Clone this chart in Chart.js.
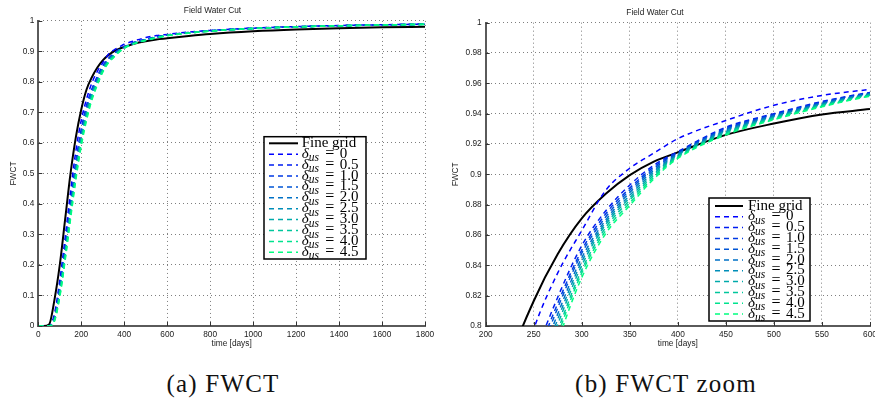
<!DOCTYPE html>
<html>
<head>
<meta charset="utf-8">
<script src="https://cdn.jsdelivr.net/npm/chart.js@4.4.0/dist/chart.umd.min.js"></script>
<style>
  html, body { margin: 0; padding: 0; background: #fff; width: 875px; height: 405px; overflow: hidden; }
  canvas { position: absolute; top: 0; }
  #fwct { left: 0; }
  #fwctZoom { left: 440px; }
  .caption {
    position: absolute; top: 369px; height: 30px; line-height: 30px;
    font-family: "Liberation Serif", "Times New Roman", serif; font-size: 25px;
    letter-spacing: 1.2px; color: #111; white-space: nowrap; transform: translateX(-50%);
  }
</style>
</head>
<body>
<canvas id="fwct" width="440" height="349"></canvas>
<canvas id="fwctZoom" width="450" height="349"></canvas>
<div class="caption" style="left:223px">(a) FWCT</div>
<div class="caption" style="left:666px">(b) FWCT zoom</div>
<script>
// simulation times [days]
const days = [0, 25, 50, 75, 100, 125, 150, 175, 200, 225, 250, 275, 300, 325, 350, 375, 400,
  450, 500, 550, 600, 700, 800, 1000, 1200, 1400, 1600, 1800];

// field water cut, fine grid reference
const fineGrid = [0, 0, 0.005, 0.085, 0.2, 0.35, 0.5, 0.62, 0.71, 0.776, 0.8165, 0.8475, 0.871, 0.8872,
  0.8995, 0.9084, 0.9145, 0.926, 0.9335, 0.9395, 0.943, 0.9505, 0.957, 0.966, 0.972, 0.976, 0.979, 0.981];

// field water cut, upscaled models for each delta_us
const dUs00 = [0, 0, 0, 0.04, 0.15, 0.29, 0.44, 0.575, 0.675, 0.745, 0.798, 0.835, 0.863, 0.8895,
  0.904, 0.914, 0.9235, 0.9355, 0.9455, 0.952, 0.956, 0.9635, 0.969, 0.9765, 0.9815, 0.985, 0.9875, 0.9895];
const dUs05 = [0, 0, 0, 0.03, 0.13, 0.265, 0.405, 0.54, 0.645, 0.725, 0.778, 0.819, 0.853, 0.876,
  0.893, 0.906, 0.915, 0.931, 0.940, 0.948, 0.954, 0.962, 0.968, 0.976, 0.981, 0.9845, 0.9872, 0.9892];
const dUs10 = [0, 0, 0, 0.028, 0.126, 0.259, 0.398, 0.5325, 0.638, 0.719, 0.7735, 0.815, 0.850, 0.874,
  0.891, 0.9049, 0.9144, 0.9304, 0.9395, 0.9476, 0.9537, 0.9618, 0.9678, 0.9759, 0.9809, 0.9844, 0.9872, 0.9892];
const dUs15 = [0, 0, 0, 0.026, 0.121, 0.252, 0.391, 0.525, 0.631, 0.7125, 0.769, 0.812, 0.848, 0.872,
  0.8896, 0.9038, 0.9139, 0.9298, 0.939, 0.9471, 0.9534, 0.9615, 0.9676, 0.9758, 0.9809, 0.9844, 0.9871, 0.9891];
const dUs20 = [0, 0, 0, 0.024, 0.117, 0.246, 0.384, 0.5175, 0.624, 0.706, 0.7645, 0.808, 0.845, 0.870,
  0.888, 0.9026, 0.9133, 0.9291, 0.9385, 0.9467, 0.9531, 0.9613, 0.9674, 0.9756, 0.9808, 0.9843, 0.9871, 0.9891];
const dUs25 = [0, 0, 0, 0.0225, 0.1125, 0.24, 0.3775, 0.51, 0.6175, 0.70, 0.760, 0.8045, 0.8425, 0.8685,
  0.8862, 0.9015, 0.9128, 0.9285, 0.938, 0.9463, 0.9528, 0.961, 0.9673, 0.9755, 0.9808, 0.9843, 0.987, 0.989];
const dUs30 = [0, 0, 0, 0.021, 0.108, 0.234, 0.371, 0.5025, 0.611, 0.694, 0.7555, 0.801, 0.840, 0.867,
  0.8846, 0.9004, 0.9122, 0.9279, 0.9375, 0.9458, 0.9524, 0.9608, 0.9671, 0.9754, 0.9807, 0.9842, 0.987, 0.989];
const dUs35 = [0, 0, 0, 0.019, 0.104, 0.227, 0.364, 0.495, 0.604, 0.6875, 0.751, 0.797, 0.837, 0.865,
  0.883, 0.8993, 0.9116, 0.9273, 0.937, 0.9454, 0.9521, 0.9605, 0.9669, 0.9753, 0.9806, 0.9841, 0.9869, 0.9889];
const dUs40 = [0, 0, 0, 0.017, 0.099, 0.221, 0.357, 0.4875, 0.597, 0.681, 0.7465, 0.794, 0.835, 0.863,
  0.8812, 0.8981, 0.9111, 0.9266, 0.9365, 0.9449, 0.9518, 0.9603, 0.9667, 0.9751, 0.9806, 0.9841, 0.9869, 0.9889];
const dUs45 = [0, 0, 0, 0.015, 0.095, 0.215, 0.35, 0.48, 0.59, 0.675, 0.742, 0.79, 0.832, 0.861,
  0.8795, 0.897, 0.9105, 0.926, 0.936, 0.9445, 0.9515, 0.960, 0.9665, 0.975, 0.9805, 0.984, 0.9868, 0.9888];

const deltaValues = ['0', '0.5', '1.0', '1.5', '2.0', '2.5', '3.0', '3.5', '4.0', '4.5'];
const deltaSeries = [dUs00, dUs05, dUs10, dUs15, dUs20, dUs25, dUs30, dUs35, dUs40, dUs45];

// "winter" colormap, blue -> spring green
const deltaColors = ['rgb(0,0,255)', 'rgb(0,28,241)', 'rgb(0,57,227)', 'rgb(0,85,213)', 'rgb(0,113,198)',
  'rgb(0,142,184)', 'rgb(0,170,170)', 'rgb(0,198,156)', 'rgb(0,227,142)', 'rgb(0,255,128)'];

const SANS = '"Liberation Sans", Arial, Helvetica, sans-serif';
const SERIF = '"Liberation Serif", "Times New Roman", serif';

function makeDatasets() {
  const pts = ys => days.map((d, i) => ({ x: d, y: ys[i] }));
  const sets = [{
    label: 'Fine grid', data: pts(fineGrid), borderColor: '#000', borderWidth: 2, order: 10
  }];
  deltaSeries.forEach((ys, i) => {
    sets.push({
      label: 'δ_us = ' + deltaValues[i],
      data: pts(ys),
      borderColor: deltaColors[i],
      borderWidth: 1.5,
      borderDash: [5, 4],
      order: 9 - i
    });
  });
  return sets;
}

// short inward tick marks on the left and bottom axes
const innerTicks = {
  id: 'innerTicks',
  afterDraw(chart) {
    const { ctx, chartArea: a, scales: { x, y } } = chart;
    ctx.save();
    ctx.strokeStyle = '#333';
    ctx.lineWidth = 1;
    ctx.beginPath();
    x.ticks.forEach(t => {
      const px = Math.round(x.getPixelForValue(t.value)) + 0.5;
      ctx.moveTo(px, a.bottom);
      ctx.lineTo(px, a.bottom - 4);
    });
    y.ticks.forEach(t => {
      const py = Math.round(y.getPixelForValue(t.value)) + 0.5;
      ctx.moveTo(a.left, py);
      ctx.lineTo(a.left + 4, py);
    });
    ctx.stroke();
    ctx.restore();
  }
};

// boxed legend drawn inside the plot area
const boxLegend = {
  id: 'boxLegend',
  afterDatasetsDraw(chart, args, opts) {
    const ctx = chart.ctx;
    ctx.save();
    ctx.fillStyle = '#fff';
    ctx.fillRect(opts.x, opts.y, opts.w, opts.h);
    ctx.strokeStyle = '#000';
    ctx.lineWidth = 1.5;
    ctx.strokeRect(opts.x, opts.y, opts.w, opts.h);

    chart.data.datasets.forEach((ds, i) => {
      const cy = opts.y + opts.first + i * opts.rowH;
      ctx.beginPath();
      ctx.setLineDash(ds.borderDash || []);
      ctx.strokeStyle = ds.borderColor;
      ctx.lineWidth = ds.borderWidth;
      ctx.moveTo(opts.x + opts.lineFrom, cy);
      ctx.lineTo(opts.x + opts.lineTo, cy);
      ctx.stroke();
      ctx.setLineDash([]);

      const tx = opts.x + opts.textX;
      const by = cy + 3.5;
      ctx.fillStyle = '#000';
      ctx.textBaseline = 'alphabetic';
      const m = ds.label.match(/^(.)_(\w+) = (.*)$/);
      if (!m) {
        ctx.font = '15px ' + SERIF;
        ctx.fillText(ds.label, tx, by);
        return;
      }
      ctx.font = 'italic 15px ' + SERIF;
      ctx.fillText(m[1], tx, by);
      const w1 = ctx.measureText(m[1]).width;
      ctx.font = 'italic 11.5px ' + SERIF;
      ctx.fillText(m[2], tx + w1, by + 3.5);
      ctx.font = '16px ' + SERIF;
      ctx.fillText('=', tx + 23.5, by);
      ctx.font = '15px ' + SERIF;
      ctx.fillText(m[3], tx + 38, by);
    });
    ctx.restore();
  }
};

function makeChart(id, cfg) {
  const tickFont = { family: SANS, size: 8.3 };
  const gridOpts = { color: 'rgba(0,0,0,0.5)', lineWidth: 1, drawTicks: false };
  const borderOpts = { color: '#5a5a5a', width: 2, dash: [1, 3] };
  return new Chart(document.getElementById(id), {
    type: 'line',
    data: { datasets: makeDatasets() },
    options: {
      responsive: false,
      animation: false,
      events: [],
      layout: { padding: { left: 0, right: cfg.padRight, top: 0, bottom: 0 } },
      elements: {
        point: { radius: 0 },
        line: { cubicInterpolationMode: 'monotone', fill: false }
      },
      scales: {
        x: {
          type: 'linear',
          min: cfg.xMin, max: cfg.xMax,
          afterFit: s => { s.height = 23; },
          ticks: {
            stepSize: cfg.xStep, autoSkip: false, maxRotation: 0, padding: 4, color: '#222', font: tickFont,
            callback: v => String(v)
          },
          grid: gridOpts,
          border: borderOpts,
          title: { display: true, text: 'time [days]', color: '#222', font: tickFont, padding: { top: 0, bottom: 0 } }
        },
        y: {
          min: cfg.yMin, max: cfg.yMax,
          afterFit: s => { s.width = cfg.yWidth; },
          ticks: {
            stepSize: cfg.yStep, autoSkip: false, padding: 4, color: '#222', font: tickFont,
            callback: v => String(+v.toFixed(2))
          },
          grid: gridOpts,
          border: borderOpts,
          title: { display: true, text: 'FWCT', color: '#222', font: tickFont, padding: { top: cfg.yTitlePad, bottom: 0 } }
        }
      },
      plugins: {
        legend: { display: false },
        tooltip: { enabled: false },
        title: {
          display: true, text: 'Field Water Cut', color: '#222',
          font: { family: SANS, size: 8.3, weight: 'normal' },
          padding: cfg.titlePad
        },
        boxLegend: cfg.legend
      }
    },
    plugins: [innerTicks, boxLegend]
  });
}

makeChart('fwct', {
  xMin: 0, xMax: 1800, xStep: 200,
  yMin: 0, yMax: 1, yStep: 0.1,
  yWidth: 38.3, yTitlePad: 9, padRight: 15,
  titlePad: { top: 6, bottom: 5 },
  legend: { x: 264, y: 136.7, w: 102, h: 122.3, first: 6.6, rowH: 10.9, lineFrom: 5, lineTo: 34, textX: 37.7 }
});

makeChart('fwctZoom', {
  xMin: 200, xMax: 600, xStep: 50,
  yMin: 0.8, yMax: 1, yStep: 0.02,
  yWidth: 45.7, yTitlePad: 10.7, padRight: 20,
  titlePad: { top: 8, bottom: 4.7 },
  legend: { x: 269, y: 198, w: 101, h: 123, first: 8, rowH: 10.8, lineFrom: 6, lineTo: 34, textX: 39 }
});
</script>
</body>
</html>
